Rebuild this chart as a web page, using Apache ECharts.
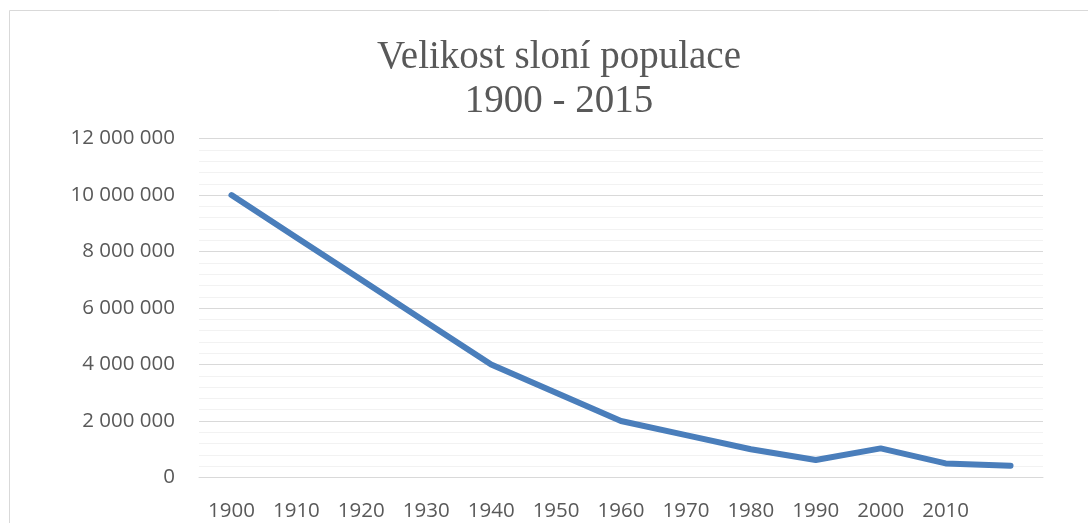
<!DOCTYPE html>
<html><head><meta charset="utf-8">
<script src="https://cdn.jsdelivr.net/npm/echarts@6/dist/echarts.min.js"></script>
<style>html,body{margin:0;padding:0;background:#fff}#c{width:1088px;height:523px}</style>
</head><body><div id="c"></div>
<script>
const categories = ['1900','1910','1920','1930','1940','1950','1960','1970','1980','1990','2000','2010','2015'];
const xLabels = ['1900','1910','1920','1930','1940','1950','1960','1970','1980','1990','2000','2010',''];
const population = [10000000, 8500000, 7000000, 5500000, 4000000, 3000000, 2000000, 1500000, 1000000, 620000, 1030000, 500000, 420000];
const titleLines = ['Velikost sloní populace', '1900 - 2015'];

const chart = echarts.init(document.getElementById('c'), null, {renderer: 'canvas'});
chart.setOption({
  animation: false,
  graphic: [{type: 'rect', shape: {x: 9.5, y: 10.5, width: 1100, height: 600}, style: {fill: 'none', stroke: '#d9d9d9', lineWidth: 1}}],
  title: {
    text: titleLines.join('\n'), left: 554, top: 31, textAlign: 'center',
    textStyle: {fontFamily: 'Liberation Serif', fontSize: 39, fontWeight: 'normal', color: '#595959', lineHeight: 43.5}
  },
  grid: {left: 199, right: 45, top: 138.6, bottom: 45.5},
  xAxis: {
    type: 'category', data: categories, boundaryGap: true,
    axisLine: {show: true, lineStyle: {color: '#d9d9d9', width: 1}},
    axisTick: {show: false},
    axisLabel: {formatter: (v, i) => xLabels[i], interval: 0, margin: 23, color: '#595959', fontSize: 20.5, fontFamily: 'Open Sans'}
  },
  yAxis: {
    type: 'value', min: 0, max: 12000000, interval: 2000000,
    axisLine: {show: false}, axisTick: {show: false},
    axisLabel: {margin: 24, color: '#595959', fontSize: 20.5, fontFamily: 'Open Sans',
      formatter: v => String(v).replace(/\B(?=(\d{3})+(?!\d))/g, ' ')},
    splitLine: {lineStyle: {color: '#d9d9d9', width: 1}},
    minorTick: {show: false, splitNumber: 5},
    minorSplitLine: {show: true, lineStyle: {color: '#f2f2f2', width: 1}}
  },
  series: [{
    type: 'line', data: population, symbol: 'none',
    lineStyle: {color: '#4a7ebb', width: 6, cap: 'round', join: 'round'}
  }]
});
</script></body></html>
